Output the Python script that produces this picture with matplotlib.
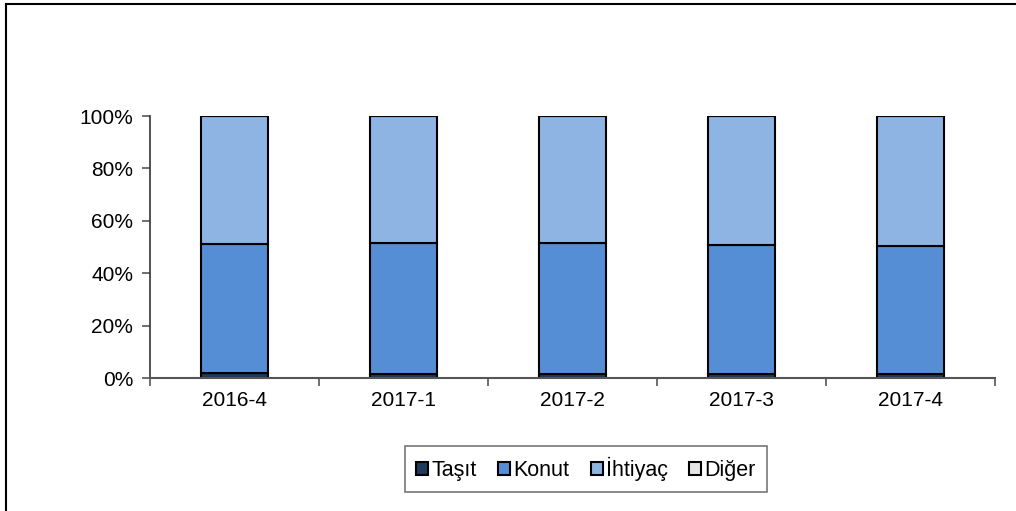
import numpy as np
import matplotlib.pyplot as plt
from matplotlib.lines import Line2D
from matplotlib.ticker import PercentFormatter

plt.rcParams['font.family'] = ['Liberation Sans', 'DejaVu Sans']

periods = ['2016-4', '2017-1', '2017-2', '2017-3', '2017-4']
tasit = [1.9, 1.5, 1.5, 1.5, 1.5]
konut = [49.2, 50.0, 50.0, 49.3, 48.9]
diger = [0.1, 0.1, 0.1, 0.1, 0.1]
ihtiyac = [100 - a - b - c for a, b, c in zip(tasit, konut, diger)]

names = ['Taşıt', 'Konut', 'İhtiyaç', 'Diğer']
colors = ['#1F3A5F', '#558ED5', '#8EB4E3', '#E6E6E6']
series = [tasit, konut, ihtiyac, diger]

fig = plt.figure(figsize=(10.16, 5.11), dpi=100)
ax = fig.add_axes([150 / 1016, 1 - 378 / 511, 845 / 1016, 262 / 511])

x = np.arange(len(periods))
bottom = np.zeros(len(periods))
for name, col, vals in zip(names, colors, series):
    vals = np.array(vals) / 100
    ax.bar(x, vals, 0.4, bottom=bottom, color=col, edgecolor='black',
           linewidth=1.5, label=name)
    bottom += vals

ax.set_xlim(-0.5, len(periods) - 0.5)
ax.set_ylim(0, 1)
ax.yaxis.set_major_formatter(PercentFormatter(1.0, decimals=0))
ax.set_yticks(np.arange(0, 1.01, 0.2))
ax.set_xticks(x)
ax.set_xticklabels(periods)
ax.set_xticks(np.arange(-0.5, len(periods), 1), minor=True)
ax.tick_params(axis='x', which='major', length=0, pad=9, labelsize=15)
ax.tick_params(axis='x', which='minor', length=6, direction='out', color='#555555', width=1.2)
ax.tick_params(axis='y', length=6, width=1.2, color='#555555', labelsize=15, pad=6)
for s in ['top', 'right']:
    ax.spines[s].set_visible(False)
ax.spines['left'].set_color('#333333')
ax.spines['bottom'].set_color('#555555')
ax.spines['left'].set_linewidth(1.2)
ax.spines['bottom'].set_linewidth(1.5)

leg = ax.legend(loc='center', bbox_to_anchor=(586 / 1016, 1 - 469 / 511),
                bbox_transform=fig.transFigure, ncol=4, frameon=True,
                fancybox=False, edgecolor='#555555', fontsize=15.5,
                handlelength=0.55, handleheight=0.55, handletextpad=0.15,
                columnspacing=1.0, borderpad=0.5)
leg.get_frame().set_linewidth(1.2)

fig.add_artist(Line2D([6 / 1016, 6 / 1016], [0, 1 - 4 / 511], color='black', lw=1.5,
                      transform=fig.transFigure))
fig.add_artist(Line2D([6 / 1016, 1], [1 - 4 / 511, 1 - 4 / 511], color='black', lw=1.5,
                      transform=fig.transFigure))

fig.savefig('out.png', dpi=100)
